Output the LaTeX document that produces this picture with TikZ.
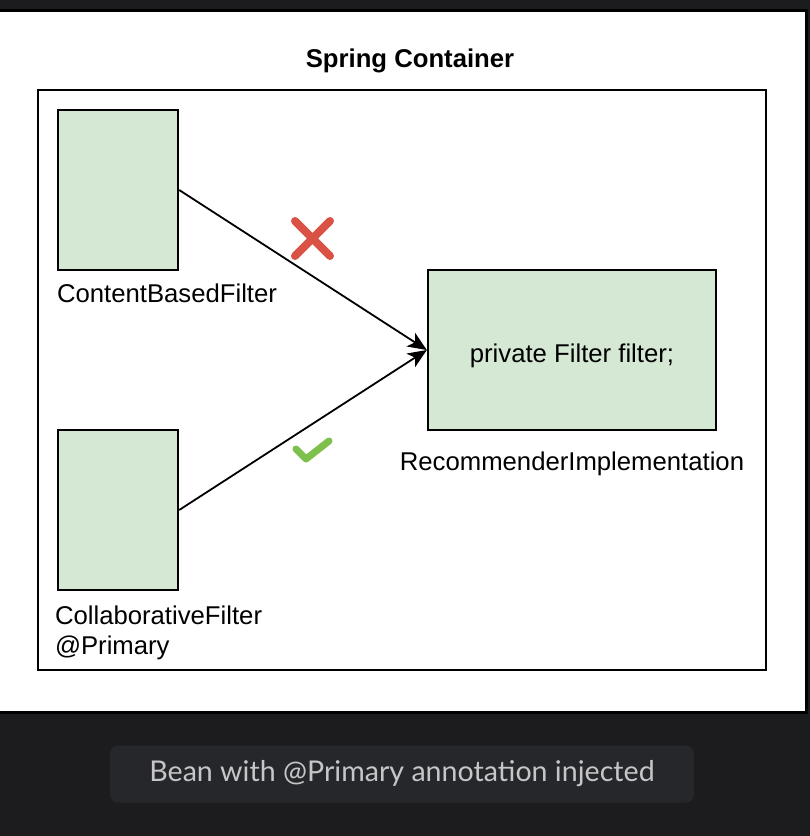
\documentclass[tikz,border=0pt]{standalone}
\usepackage{fontspec}
\setmainfont{Liberation Sans}
\newfontfamily\captionfont{Lato}
\usetikzlibrary{arrows.meta,positioning}
\definecolor{beanfill}{HTML}{D5E8D4}
\definecolor{darkbg}{HTML}{1C1C1E}
\definecolor{capbg}{HTML}{26272B}
\definecolor{capfg}{HTML}{C6C6C8}
\definecolor{crossred}{HTML}{DA5245}
\definecolor{tickgreen}{HTML}{7DC04B}

\begin{document}
\begin{tikzpicture} [x=1pt,y=-1pt,>={Stealth[length=19pt,width=16pt,inset=5pt]},
  bean/.style={draw,line width=2.4pt,fill=beanfill,inner sep=0pt},
  lbl/.style={font=\fontsize{25.7}{30}\selectfont,inner sep=0pt}]
\useasboundingbox (0,0) rectangle (810,836);
\fill[darkbg] (0,0) rectangle (810,836);
\draw[line width=3pt,fill=white] (-3,10) rectangle (806,712);
\node[lbl,font=\fontsize{25.7}{30}\selectfont\bfseries] (title) at (410,61) {Spring Container};
\draw[line width=2.4pt] (38,90) rectangle (766,670);
% beans
\node[bean,minimum width=120pt,minimum height=160pt] (cbf) at (118,190) {};
\node[bean,minimum width=120pt,minimum height=160pt] (colf) at (118,510) {};
\node[bean,lbl,minimum width=288pt,minimum height=160pt,text height=24pt,text depth=0pt]
  (rec) at (572,350) {private Filter filter;};
\node[lbl,anchor=base west] (cbflbl) at ([yshift=-31pt]cbf.south west) {ContentBasedFilter};
\node[lbl,anchor=north west,align=left] (colflbl) at ([xshift=-2pt,yshift=-14pt]colf.south west)
  {CollaborativeFilter\\@Primary};
\node[lbl,anchor=base] (reclbl) at ([yshift=-39pt]rec.south) {RecommenderImplementation};
% injection
\draw[->,line width=1.8pt] (cbf.east) -- (rec.west);
\draw[->,line width=1.8pt] (colf.east) -- (rec.west);
\draw[crossred,line width=8pt,line cap=round] (295,221) -- (330,256) (295,256) -- (330,221);
\draw[tickgreen,line width=7pt,line cap=round,line join=round] (296,449) -- (306,459) -- (329,441);
% caption
\node[fill=capbg,rounded corners=8pt,minimum width=584pt,minimum height=57pt,
  text=capfg,font=\captionfont\fontsize{28.6}{32}\selectfont] (caption) at (402,774)
  {Bean with @Primary annotation injected};
\end{tikzpicture}
\end{document}
